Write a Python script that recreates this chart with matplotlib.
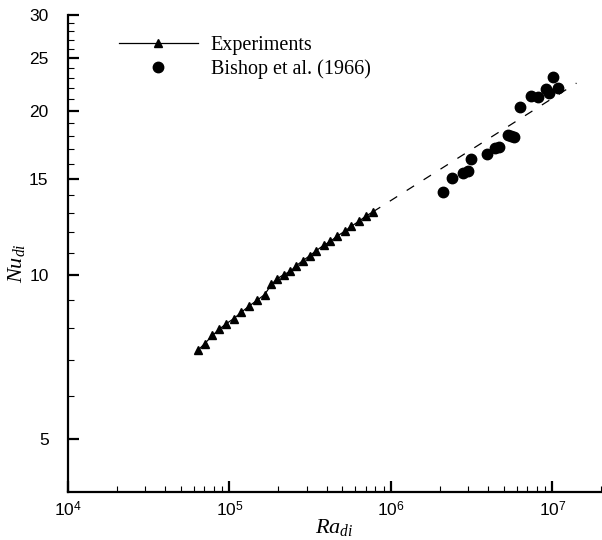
import numpy as np
import matplotlib
matplotlib.use("Agg")
import matplotlib.pyplot as plt
from matplotlib.ticker import FixedLocator, FuncFormatter, LogLocator, NullFormatter

plt.rcParams['mathtext.fontset'] = 'custom'
plt.rcParams['mathtext.rm'] = 'Liberation Sans'
plt.rcParams['mathtext.it'] = 'Liberation Serif:italic'
plt.rcParams['font.family'] = 'Liberation Sans'

# experiments (triangles)
ra_exp = [6.39e4, 7.03e4, 7.85e4, 8.62e4, 9.58e4, 1.064e5, 1.186e5, 1.322e5, 1.482e5,
          1.652e5, 1.819e5, 1.969e5, 2.167e5, 2.384e5, 2.596e5, 2.851e5, 3.138e5,
          3.451e5, 3.83e5, 4.217e5, 4.627e5, 5.166e5, 5.68e5, 6.33e5, 6.97e5, 7.73e5]
nu_exp = [7.28, 7.49, 7.75, 7.95, 8.15, 8.32, 8.55, 8.77, 8.99,
          9.21, 9.61, 9.84, 10.02, 10.16, 10.41, 10.63, 10.85,
          11.09, 11.34, 11.53, 11.78, 12.03, 12.29, 12.55, 12.82, 13.06]

# Bishop et al. (1966)
ra_bis = [2.115e6, 2.394e6, 2.81e6, 2.99e6, 3.14e6, 3.92e6, 4.44e6, 4.65e6, 5.28e6,
          5.55e6, 5.81e6, 6.33e6, 7.38e6, 8.1e6, 9.13e6, 9.57e6, 1.003e7, 1.077e7]
nu_bis = [14.18, 15.07, 15.42, 15.50, 16.32, 16.70, 17.14, 17.21, 18.08,
          18.01, 17.91, 20.33, 21.32, 21.2, 21.93, 21.61, 23.07, 22.07]

# dashed extrapolation
ra_fit = [7.73e5, 1.41e7]
nu_fit = [13.06, 22.5]

yticks = [5, 10, 15, 20, 25, 30]

fig = plt.figure(figsize=(6.02, 5.40), dpi=100)
ax = fig.add_axes([68/602, 1-492/540, 533/602, 477/540])

ax.plot(ra_fit, nu_fit, color='black', lw=0.9, dashes=(7, 9))
ax.plot(ra_exp, nu_exp, color='black', lw=0.9, marker='^', ms=5.5,
        label='Experiments')
ax.plot(ra_bis, nu_bis, ls='none', color='black', marker='o', ms=7.5,
        label='Bishop et al. (1966)')

ax.set_xscale('log')
ax.set_yscale('log')
ax.set_xlim(1e4, 2e7)
ax.set_ylim(4, 30)

ax.spines['top'].set_visible(False)
ax.spines['right'].set_visible(False)
ax.spines['left'].set_linewidth(1.6)
ax.spines['bottom'].set_linewidth(1.6)

ax.xaxis.set_major_locator(FixedLocator([1e4, 1e5, 1e6, 1e7]))
ax.xaxis.set_major_formatter(FuncFormatter(lambda v, p: r'$10^{%d}$' % round(np.log10(v))))
ax.xaxis.set_minor_locator(LogLocator(base=10, subs=np.arange(2, 10), numticks=20))
ax.xaxis.set_minor_formatter(NullFormatter())

ax.yaxis.set_major_locator(FixedLocator(yticks))
ax.yaxis.set_major_formatter(FuncFormatter(lambda v, p: '%d' % v))
ax.yaxis.set_minor_locator(FixedLocator([v for v in range(6, 30) if v not in yticks]))
ax.yaxis.set_minor_formatter(NullFormatter())

ax.tick_params(which='major', direction='in', length=8, width=1.6, labelsize=12.5)
ax.tick_params(axis='x', which='major', pad=6)
ax.tick_params(axis='y', which='major', pad=14)
ax.tick_params(which='minor', direction='in', length=4.5, width=0.8)

ax.set_xlabel(r'$Ra_{di}$', fontsize=16)
ax.set_ylabel(r'$Nu_{di}$', fontsize=16)
ax.xaxis.set_label_coords(0.5, -0.052)
ax.yaxis.set_label_coords(-0.077, 0.48)

ax.legend(loc='upper left', bbox_to_anchor=(119/602, 1-36/540),
          bbox_transform=fig.transFigure, frameon=False, numpoints=1,
          handlelength=3.9, handletextpad=0.65, labelspacing=0.2,
          borderpad=0, borderaxespad=0,
          prop={'family': 'Liberation Serif', 'size': 14.5})

fig.savefig('out.png', dpi=100)
